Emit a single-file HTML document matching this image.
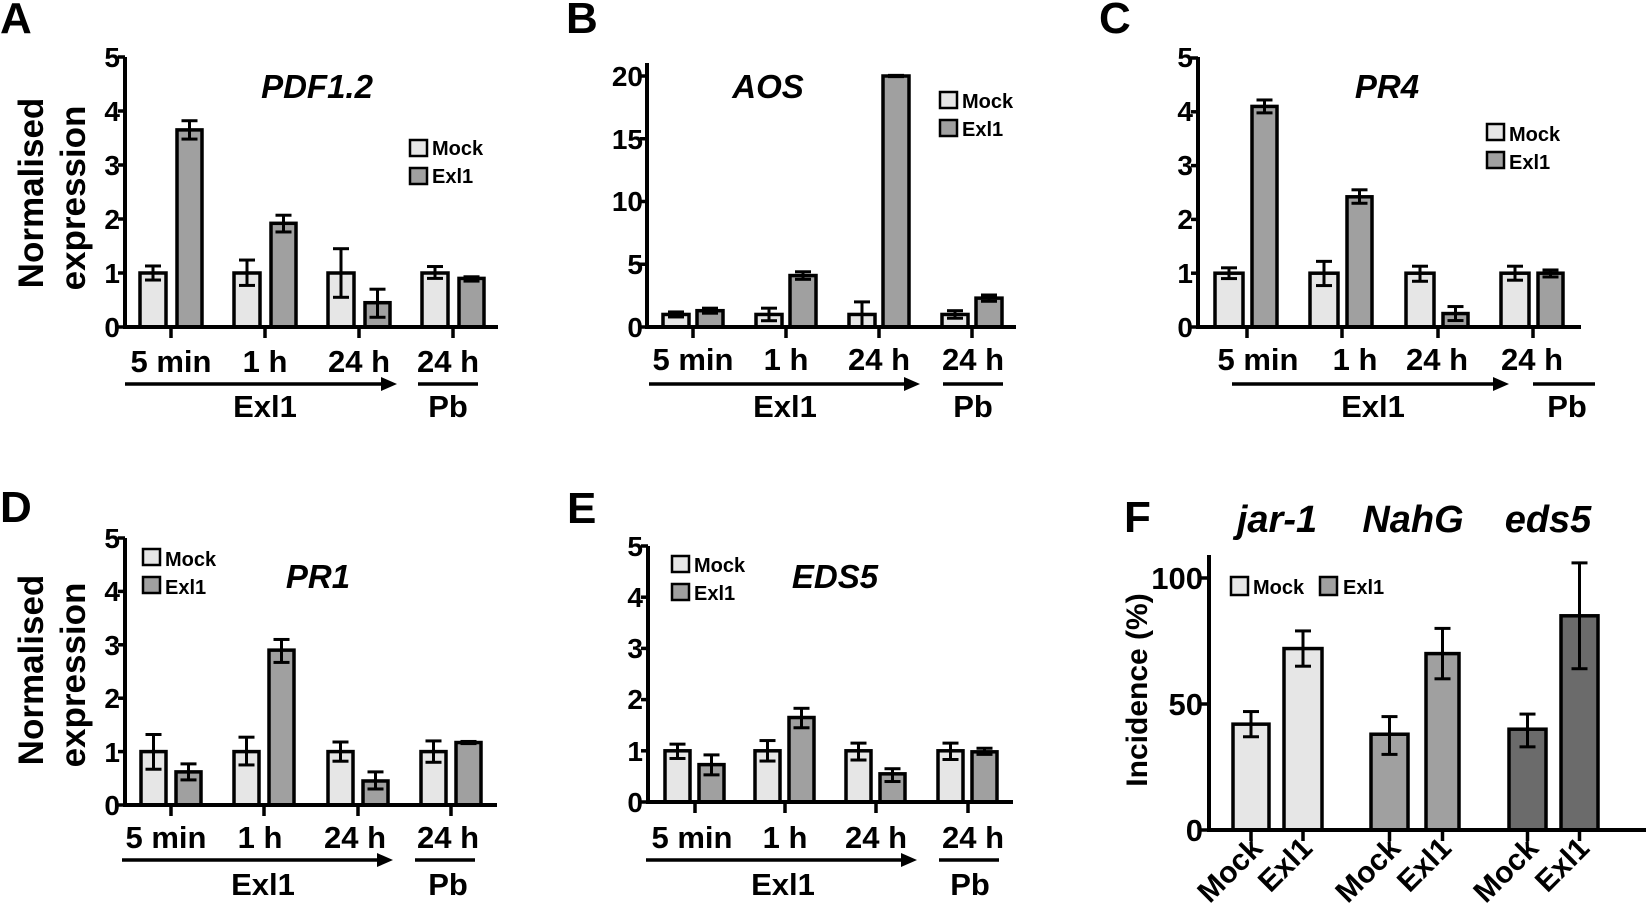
<!DOCTYPE html>
<html><head><meta charset="utf-8"><style>
html,body{margin:0;padding:0;background:#fff}
svg{display:block}
text{font-family:"Liberation Sans",Arial,sans-serif;font-weight:bold;fill:#000}
.tk{font-size:28px;text-anchor:end}
.xl{font-size:31px;text-anchor:middle}
.ti{font-size:33px;font-style:italic;text-anchor:middle}
.lg{font-size:20px}
.yl{font-size:35px;text-anchor:middle}
.pl{font-size:44px}
</style></head><body>
<svg id="s" width="1646" height="913" viewBox="0 0 1646 913" xmlns="http://www.w3.org/2000/svg">
<g id="g"></g>
<text class="pl" x="0" y="33">A</text>
<text class="pl" x="566" y="33">B</text>
<text class="pl" x="1099" y="33">C</text>
<text class="pl" x="0" y="522">D</text>
<text class="pl" x="567" y="523">E</text>
<text class="pl" x="1124" y="532">F</text>

<!-- A -->
<text class="ti" x="317" y="98">PDF1.2</text>
<text class="yl" transform="translate(43,193) rotate(-90)">Normalised</text>
<text class="yl" transform="translate(85,198) rotate(-90)">expression</text>
<text class="tk" x="120" y="67">5</text><text class="tk" x="120" y="121">4</text><text class="tk" x="120" y="175">3</text><text class="tk" x="120" y="229">2</text><text class="tk" x="120" y="283">1</text><text class="tk" x="120" y="337">0</text>
<text class="xl" x="171" y="372">5 min</text><text class="xl" x="265" y="372">1 h</text><text class="xl" x="359" y="372">24 h</text><text class="xl" x="448" y="372">24 h</text>
<text class="xl" x="265" y="417">Exl1</text><text class="xl" x="448" y="417">Pb</text>
<text class="lg" x="432" y="155">Mock</text><text class="lg" x="432" y="183">Exl1</text>

<!-- B -->
<text class="ti" x="768" y="98">AOS</text>
<text class="tk" x="643" y="86">20</text><text class="tk" x="643" y="149">15</text><text class="tk" x="643" y="211">10</text><text class="tk" x="643" y="274">5</text><text class="tk" x="643" y="337">0</text>
<text class="xl" x="693" y="370">5 min</text><text class="xl" x="786" y="370">1 h</text><text class="xl" x="879" y="370">24 h</text><text class="xl" x="973" y="370">24 h</text>
<text class="xl" x="785" y="417">Exl1</text><text class="xl" x="973" y="417">Pb</text>
<text class="lg" x="962" y="108">Mock</text><text class="lg" x="962" y="136">Exl1</text>

<!-- C -->
<text class="ti" x="1387" y="98">PR4</text>
<text class="tk" x="1193" y="67">5</text><text class="tk" x="1193" y="121">4</text><text class="tk" x="1193" y="175">3</text><text class="tk" x="1193" y="229">2</text><text class="tk" x="1193" y="283">1</text><text class="tk" x="1193" y="337">0</text>
<text class="xl" x="1258" y="370">5 min</text><text class="xl" x="1355" y="370">1 h</text><text class="xl" x="1437" y="370">24 h</text><text class="xl" x="1532" y="370">24 h</text>
<text class="xl" x="1373" y="417">Exl1</text><text class="xl" x="1567" y="417">Pb</text>
<text class="lg" x="1509" y="141">Mock</text><text class="lg" x="1509" y="169">Exl1</text>

<!-- D -->
<text class="ti" x="318" y="588">PR1</text>
<text class="yl" transform="translate(43,670) rotate(-90)">Normalised</text>
<text class="yl" transform="translate(85,675) rotate(-90)">expression</text>
<text class="tk" x="120" y="548">5</text><text class="tk" x="120" y="601">4</text><text class="tk" x="120" y="655">3</text><text class="tk" x="120" y="708">2</text><text class="tk" x="120" y="762">1</text><text class="tk" x="120" y="815">0</text>
<text class="xl" x="166" y="848">5 min</text><text class="xl" x="260" y="848">1 h</text><text class="xl" x="355" y="848">24 h</text><text class="xl" x="448" y="848">24 h</text>
<text class="xl" x="263" y="895">Exl1</text><text class="xl" x="448" y="895">Pb</text>
<text class="lg" x="165" y="566">Mock</text><text class="lg" x="165" y="594">Exl1</text>

<!-- E -->
<text class="ti" x="835" y="588">EDS5</text>
<text class="tk" x="643" y="556">5</text><text class="tk" x="643" y="607">4</text><text class="tk" x="643" y="658">3</text><text class="tk" x="643" y="709">2</text><text class="tk" x="643" y="761">1</text><text class="tk" x="643" y="812">0</text>
<text class="xl" x="692" y="848">5 min</text><text class="xl" x="785" y="848">1 h</text><text class="xl" x="876" y="848">24 h</text><text class="xl" x="973" y="848">24 h</text>
<text class="xl" x="783" y="895">Exl1</text><text class="xl" x="970" y="895">Pb</text>
<text class="lg" x="694" y="572">Mock</text><text class="lg" x="694" y="600">Exl1</text>

<!-- F -->
<text class="ti" style="font-size:38px" x="1277" y="532">jar-1</text>
<text class="ti" style="font-size:38px" x="1413" y="532">NahG</text>
<text class="ti" style="font-size:38px" x="1548" y="532">eds5</text>
<text class="yl" style="font-size:30px" transform="translate(1147,690) rotate(-90)">Incidence (%)</text>
<text class="tk" style="font-size:31px" x="1203" y="589">100</text><text class="tk" style="font-size:31px" x="1203" y="715">50</text><text class="tk" style="font-size:31px" x="1203" y="841">0</text>
<text class="lg" x="1253" y="594">Mock</text><text class="lg" x="1343" y="594">Exl1</text>
<g style="font-size:30px;text-anchor:end">
<text transform="translate(1264,850) rotate(-45)">Mock</text>
<text transform="translate(1314,850) rotate(-45)">Exl1</text>
<text transform="translate(1402,850) rotate(-45)">Mock</text>
<text transform="translate(1453,850) rotate(-45)">Exl1</text>
<text transform="translate(1540,850) rotate(-45)">Mock</text>
<text transform="translate(1591,850) rotate(-45)">Exl1</text>
</g>
</svg>
<script>
var g=document.getElementById('g'),NS='http://www.w3.org/2000/svg';
function el(t,a){var e=document.createElementNS(NS,t);for(var k in a)e.setAttribute(k,a[k]);g.appendChild(e);return e;}
function line(x1,y1,x2,y2,w){el('line',{x1:x1,y1:y1,x2:x2,y2:y2,stroke:'#000','stroke-width':w||3});}
function bar(x0,x1,y0,sc,v,lo,hi,fill){
  var top=y0-v*sc;
  el('rect',{x:x0,y:top,width:x1-x0,height:y0-top,fill:fill,stroke:'#000','stroke-width':3.5});
  var c=(x0+x1)/2,yl=y0-lo*sc,yh=y0-hi*sc;
  line(c,yl,c,yh,3);line(c-8,yl,c+8,yl,3);line(c-8,yh,c+8,yh,3);
}
var M='#e6e6e6',E='#a0a0a0';
function panel(p){
  var sc=(p.y0-p.yt)/p.max;
  p.data.forEach(function(d,i){
    var c=p.ticks[i];
    bar(c+p.m[0],c+p.m[1],p.y0,sc,d[0],d[1],d[2],M);
    bar(c+p.e[0],c+p.e[1],p.y0,sc,d[3],d[4],d[5],E);
    line(c,p.y0,c,p.y0+11,3.5);
  });
  line(p.ax,p.top,p.ax,p.y0+2,4);
  line(p.ax-2,p.y0,p.xe,p.y0,4);
  p.yt2.forEach(function(v){var y=p.y0-v*sc;line(p.ax-7,y,p.ax,y,3.5);});
  line(p.ar[0],p.ar[2],p.ar[1]-14,p.ar[2],3.5);
  el('polygon',{points:(p.ar[1]-16)+','+(p.ar[2]-7)+' '+p.ar[1]+','+p.ar[2]+' '+(p.ar[1]-16)+','+(p.ar[2]+7),fill:'#000'});
  line(p.pb[0],p.ar[2],p.pb[1],p.ar[2],3.5);
  el('rect',{x:p.lg[0],y:p.lg[1],width:17,height:16,fill:M,stroke:'#000','stroke-width':2.5});
  el('rect',{x:p.lg[0],y:p.lg[1]+28,width:17,height:16,fill:E,stroke:'#000','stroke-width':2.5});
}
panel({ax:125,y0:327,yt:57,max:5,top:57,xe:498,ticks:[171,265,359,453],m:[-31,-5],e:[6,31],yt2:[0,1,2,3,4,5],
 data:[[1,.87,1.13,3.65,3.48,3.82],[1,.77,1.24,1.92,1.76,2.07],[1,.55,1.45,.45,.18,.7],[1,.9,1.12,.9,.85,.93]],
 ar:[125,397,384],pb:[418,478],lg:[410,140]});
panel({ax:647,y0:327,yt:76,max:20,top:63,xe:1016,ticks:[693,786,879,972],m:[-30,-4],e:[4,30],yt2:[0,5,10,15,20],
 data:[[1,.8,1.2,1.3,1.1,1.5],[1,.5,1.5,4.1,3.8,4.4],[1,0,2,20,19.95,20.05],[1,.7,1.3,2.3,2.05,2.55]],
 ar:[649,920,384],pb:[943,1003],lg:[940,92]});
panel({ax:1198,y0:327,yt:58,max:5,top:57,xe:1581,ticks:[1247,1342,1438,1533],m:[-32,-4],e:[5,30],yt2:[0,1,2,3,4,5],
 data:[[1,.9,1.1,4.1,3.98,4.22],[1,.77,1.22,2.42,2.3,2.55],[1,.85,1.13,.25,.12,.38],[1,.87,1.13,1,.93,1.06]],
 ar:[1232,1509,384],pb:[1533,1595],lg:[1487,124]});
panel({ax:125,y0:805,yt:538,max:5,top:538,xe:497,ticks:[171,264,358,451],m:[-30,-5],e:[5,30],yt2:[0,1,2,3,4,5],
 data:[[1,.67,1.32,.62,.47,.77],[1,.75,1.27,2.9,2.67,3.1],[1,.82,1.18,.45,.3,.62],[1,.8,1.2,1.17,1.15,1.19]],
 ar:[122,393,860],pb:[415,475],lg:[143,549]});
panel({ax:648,y0:802,yt:546,max:5,top:546,xe:1013,ticks:[695,785,876,968],m:[-30,-5],e:[4,29],yt2:[0,1,2,3,4,5],
 data:[[1,.85,1.13,.73,.53,.92],[1,.8,1.2,1.65,1.45,1.83],[1,.82,1.15,.55,.4,.65],[1,.83,1.15,.98,.93,1.05]],
 ar:[646,917,860],pb:[939,999],lg:[672,556]});
(function(){
  var y0=830,sc=2.52,ax=1209;
  var bs=[[1233,1269,42,37,47,'#e6e6e6'],[1284,1322,72,65,79,'#e6e6e6'],[1371,1408,38,30,45,'#a0a0a0'],[1426,1459,70,60,80,'#a0a0a0'],[1509,1546,40,33,46,'#6b6b6b'],[1561,1598,85,64,106,'#6b6b6b']];
  bs.forEach(function(b){bar(b[0],b[1],y0,sc,b[2],b[3],b[4],b[5]);line((b[0]+b[1])/2,y0,(b[0]+b[1])/2,y0+11,3.5);});
  line(ax,555,ax,y0+2,4);line(ax-2,y0,1646,y0,4);
  [0,50,100].forEach(function(v){var y=y0-v*sc;line(ax-8,y,ax,y,3.5);});
  el('rect',{x:1231,y:577,width:17,height:18,fill:'#e6e6e6',stroke:'#000','stroke-width':2.5});
  el('rect',{x:1320,y:577,width:17,height:18,fill:'#a0a0a0',stroke:'#000','stroke-width':2.5});
})();
</script>
</body></html>
